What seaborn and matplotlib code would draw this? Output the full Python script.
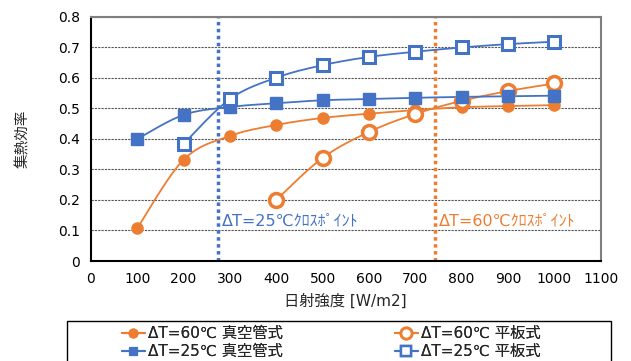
import numpy as np
import pandas as pd
import seaborn as sns
import matplotlib.pyplot as plt
from matplotlib.lines import Line2D
from matplotlib.patches import Rectangle

# 集熱効率 vs 日射強度
irr_all = [100, 200, 300, 400, 500, 600, 700, 800, 900, 1000]
vac60 = [0.107, 0.332, 0.41, 0.446, 0.469, 0.483, 0.495, 0.504, 0.508, 0.511]
irr_flat60 = [400, 500, 600, 700, 800, 900, 1000]
flat60 = [0.20, 0.338, 0.423, 0.482, 0.525, 0.557, 0.582]
vac25 = [0.40, 0.479, 0.505, 0.517, 0.527, 0.531, 0.535, 0.538, 0.540, 0.542]
irr_flat25 = [200, 300, 400, 500, 600, 700, 800, 900, 1000]
flat25 = [0.384, 0.531, 0.601, 0.642, 0.669, 0.686, 0.700, 0.711, 0.719]

cross25 = 275
cross60 = 743

labels = ['ΔT=60℃ 真空管式', 'ΔT=60℃ 平板式', 'ΔT=25℃ 真空管式', 'ΔT=25℃ 平板式']

ORANGE = '#ED7D31'
BLUE = '#4472C4'

sns.set_theme(style='white')
plt.rcParams['font.family'] = ['DejaVu Sans', 'Noto Sans CJK JP']


def smooth(x, y, n=20):
    # Catmull-Rom style curve through the points, like Excel's smoothed line
    x = np.asarray(x, float)
    y = np.asarray(y, float)
    px = np.concatenate([[x[0]], x, [x[-1]]])
    py = np.concatenate([[y[0]], y, [y[-1]]])
    xs, ys = [], []
    t = np.linspace(0, 1, n)
    for i in range(1, len(px) - 2):
        for p, out in ((px, xs), (py, ys)):
            p0, p1, p2, p3 = p[i - 1], p[i], p[i + 1], p[i + 2]
            c1 = p1 + (p2 - p0) / 6
            c2 = p2 - (p3 - p1) / 6
            out.extend((1 - t) ** 3 * p1 + 3 * (1 - t) ** 2 * t * c1
                       + 3 * (1 - t) * t ** 2 * c2 + t ** 3 * p2)
    return np.array(xs), np.array(ys)


W, H = 631, 361
fig = plt.figure(figsize=(W / 100, H / 100), dpi=100)
ax = fig.add_axes([0.144, 0.277, 0.808, 0.676])

series = [
    (irr_all, vac60, ORANGE, 'o', True, 8, 1.0),
    (irr_flat60, flat60, ORANGE, 'o', False, 10, 2.5),
    (irr_all, vac25, BLUE, 's', True, 8, 1.0),
    (irr_flat25, flat25, BLUE, 's', False, 9, 2.2),
]

for x, y, c, m, filled, ms, mew in series:
    sx, sy = smooth(x, y)
    sns.lineplot(x=sx, y=sy, ax=ax, color=c, lw=1.3, sort=False, zorder=3)
    ax.plot(x, y, ls='none', marker=m, ms=ms, mew=mew, mec=c,
            mfc=c if filled else 'white', zorder=4)

ax.axvline(cross25, color=BLUE, lw=2.5, ls=(0, (1, 1)), zorder=2)
ax.axvline(cross60, color=ORANGE, lw=2.5, ls=(0, (1, 1)), zorder=2)
ax.text(cross25 + 8, 0.133, 'ΔT=25℃ｸﾛｽﾎﾟｲﾝﾄ', color=BLUE, fontsize=11.5,
        va='center', ha='left')
ax.text(cross60 + 8, 0.133, 'ΔT=60℃ｸﾛｽﾎﾟｲﾝﾄ', color=ORANGE, fontsize=11.5,
        va='center', ha='left')

ax.set_xlim(0, 1100)
ax.set_ylim(0, 0.8)
ax.set_xticks(range(0, 1101, 100))
ax.set_yticks(np.arange(0, 0.81, 0.1))
ax.set_yticklabels(['0'] + [f'{v:.1f}' for v in np.arange(0.1, 0.81, 0.1)])
ax.tick_params(axis='both', direction='in', length=4, labelsize=10,
               colors='black', pad=8)
ax.yaxis.grid(True, color='#555555', lw=0.8, ls=(0, (2, 1)))
ax.set_axisbelow(True)

for s in ['left', 'bottom']:
    ax.spines[s].set_color('black')
    ax.spines[s].set_linewidth(1.5)
for s in ['top', 'right']:
    ax.spines[s].set_color('#7f7f7f')
    ax.spines[s].set_linewidth(1.5)

ax.set_xlabel('日射強度 [W/m2]', fontsize=11, labelpad=5)
ax.set_ylabel('集熱効率', fontsize=10.5)
ax.yaxis.set_label_coords(-(91 - 30) / 510, 0.5)

# legend: a plain box with two hand-placed columns
fig.patches.append(Rectangle((67 / W, -0.05), (611 - 67) / W, 1 - 321 / H + 0.05,
                             transform=fig.transFigure, fill=False,
                             edgecolor='black', lw=1.0))
handles = []
for x, y, c, m, filled, ms, mew in series:
    handles.append(Line2D([], [], color=c, lw=1.5, marker=m,
                          ms=ms * 0.8, mew=mew * 0.8, mec=c,
                          mfc=c if filled else 'white'))
for cols, xpix in (([0, 2], 122), ([1, 3], 395)):
    lg = fig.legend([handles[i] for i in cols], [labels[i] for i in cols],
                    loc='upper left', bbox_to_anchor=(xpix / W, 1 - 326 / H),
                    fontsize=11, frameon=False, handlelength=1.5,
                    handletextpad=0.2, borderpad=0, labelspacing=0.2,
                    borderaxespad=0)
    fig.add_artist(lg)

fig.savefig('out.png', dpi=100)
